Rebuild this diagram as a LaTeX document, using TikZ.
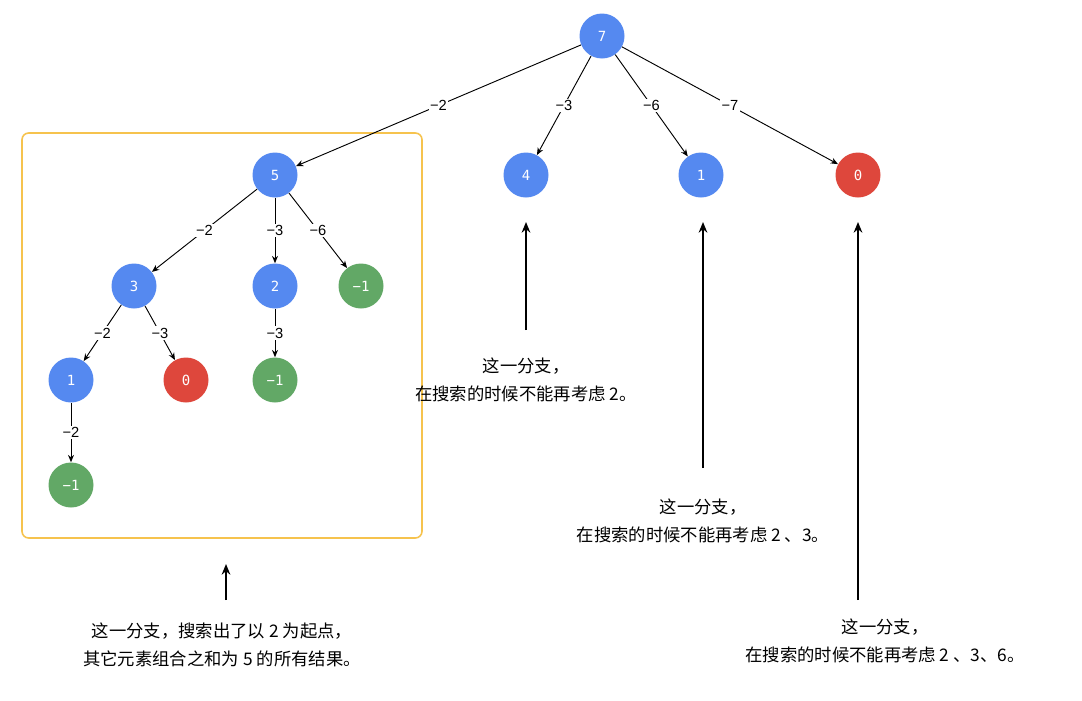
\documentclass[tikz,border=0pt]{standalone}
\usepackage{fontspec}
\newfontfamily\cjk{Noto Sans CJK SC}
\newfontfamily\digitfont{DejaVu Sans Mono}
\newfontfamily\lblfont{Liberation Sans}
\usetikzlibrary{arrows.meta}
\definecolor{nodeblue}{RGB}{85,137,240}
\definecolor{nodered}{RGB}{222,71,60}
\definecolor{nodegreen}{RGB}{98,168,102}
\definecolor{boxorange}{RGB}{246,195,78}
\tikzset{
  num/.style={circle, minimum size=33.75pt, inner sep=0pt, text=white, font=\digitfont\fontsize{10.5}{11}\selectfont},
  blue/.style={num, fill=nodeblue},
  red/.style={num, fill=nodered},
  green/.style={num, fill=nodegreen},
  edge/.style={draw, line width=0.7pt, -{Stealth[length=5.5pt,width=4.5pt]}},
  lbl/.style={fill=white, inner sep=1.2pt, font=\lblfont\fontsize{11}{12}\selectfont},
  bigarrow/.style={draw, line width=1.6pt, -{Stealth[length=8pt,width=6.5pt]}},
  caption/.style={align=center, font=\cjk\fontsize{13}{21}\selectfont}
}
\begin{document}
\begin{tikzpicture}[x=0.75pt, y=-0.75pt]
  \useasboundingbox (0,0) rectangle (1082,700);
  % the framed branch
  \draw[boxorange, line width=1.2pt, rounded corners=5pt] (22,133) rectangle (422,538);
  % tree nodes
  \node[blue] at (602,36) (n7) {7};
  \node[blue] at (275,175) (n5) {5};
  \node[blue] at (526,175) (n4) {4};
  \node[blue] at (701,175) (n1) {1};
  \node[red] at (858,175) (n0) {0};
  \node[blue] at (134,286) (n53) {3};
  \node[blue] at (275,286) (n52) {2};
  \node[green] at (361,286) (n5m) {−1};
  \node[blue] at (71,380) (n531) {1};
  \node[red] at (186,380) (n530) {0};
  \node[green] at (275,380) (n52m) {−1};
  \node[green] at (71,485) (n531m) {−1};
  % edges with weights
  \foreach \a/\b/\w in {n7/n5/2, n7/n4/3, n7/n1/6, n7/n0/7, n5/n53/2, n5/n52/3, n5/n5m/6,
      n53/n531/2, n53/n530/3, n52/n52m/3, n531/n531m/2}{
    \draw[edge] (\a) -- node[lbl] {−\w} (\b);
  }
  % captions and pointers
  \node[caption] at (526,380) (c4) {这一分支，\\在搜索的时候不能再考虑 2。};
  \node[caption] at (703,521) (c1) {这一分支，\\在搜索的时候不能再考虑 2 、3。};
  \node[caption] at (885,641) (c0) {这一分支，\\在搜索的时候不能再考虑 2 、3、6。};
  \node[caption] at (222,645) (cb) {这一分支，搜索出了以 2 为起点，\\其它元素组合之和为 5 的所有结果。};
  \coordinate (t4) at (526,330);
  \coordinate (t1) at (703,468);
  \coordinate (t0) at (858,600);
  \coordinate (tb) at (226,600);
  \coordinate (hb) at (226,564);
  \draw[bigarrow] (t4) -- (n4 |- 0,222);
  \draw[bigarrow] (t1) -- (703,222);
  \draw[bigarrow] (t0) -- (858,222);
  \draw[bigarrow] (tb) -- (hb);
\end{tikzpicture}
\end{document}
